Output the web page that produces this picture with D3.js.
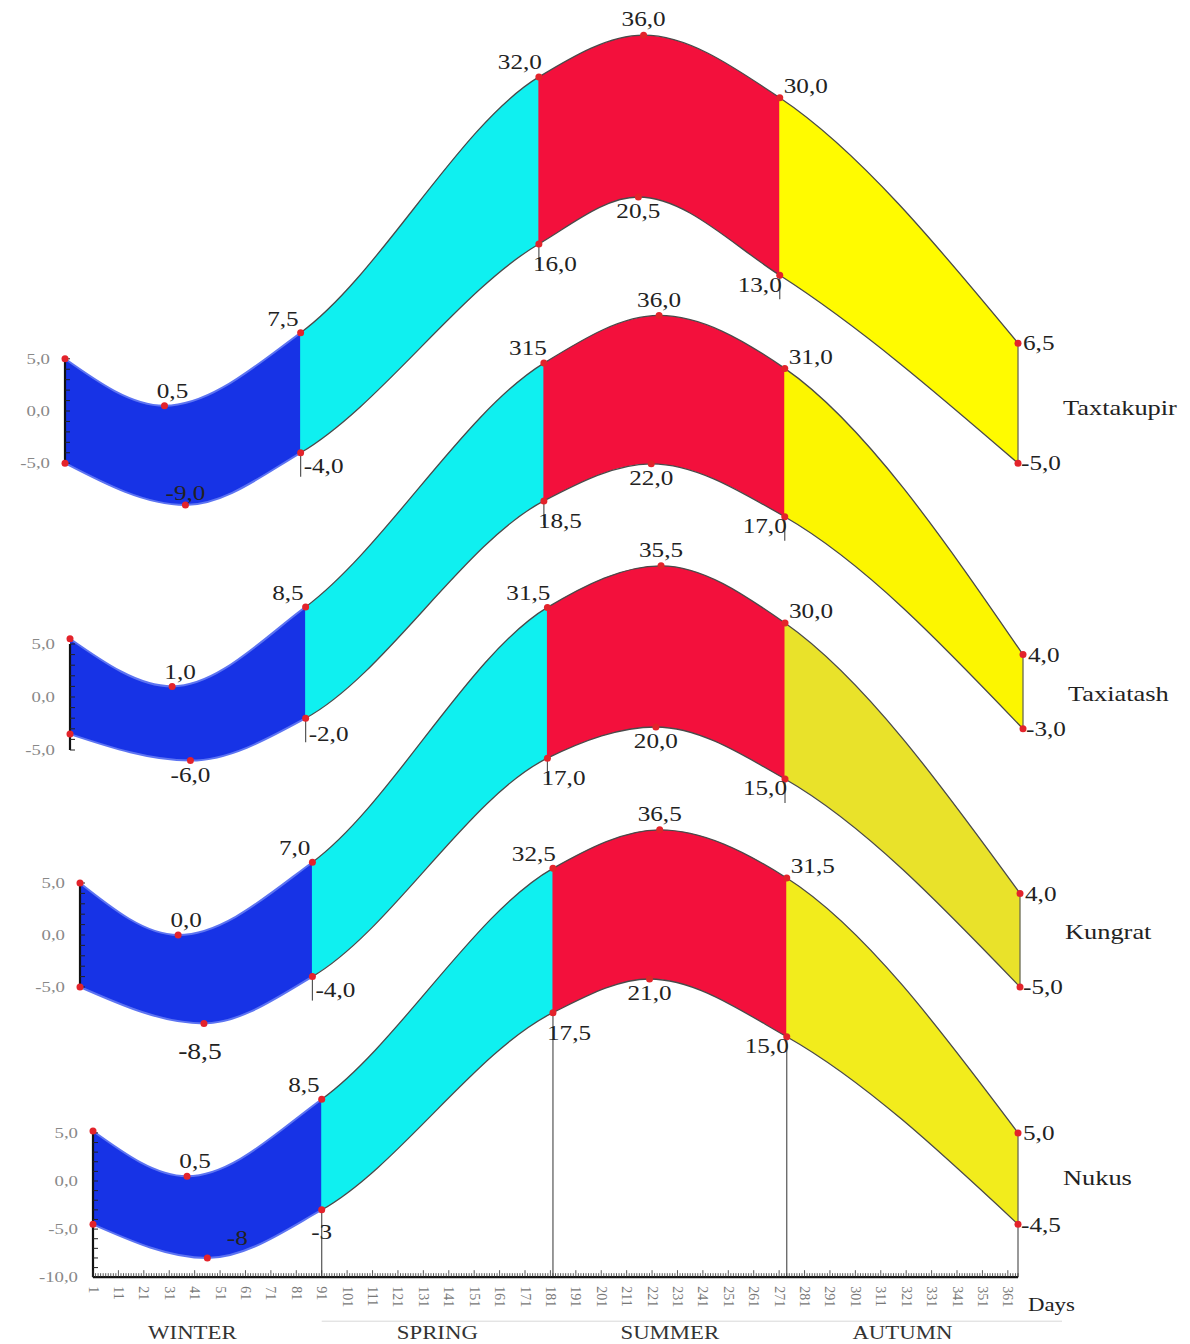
<!DOCTYPE html>
<html><head><meta charset="utf-8">
<script src="https://cdn.jsdelivr.net/npm/d3@7/dist/d3.min.js"></script>
<style>body{margin:0;background:#fff} svg{display:block}</style>
</head><body><svg id="c" width="1190" height="1344"></svg>
<script>
// ---------------- DATA ----------------
const stations = ["Taxtakupir", "Taxiatash", "Kungrat", "Nukus"];
const seasons = ["WINTER", "SPRING", "SUMMER", "AUTUMN"];
const seasonStart = [1, 91, 182, 274];
const seasonEnd = [91, 182, 274, 365];

const upperDays = [
  [1, 39, 91, 182, 222, 274, 365],
  [1, 40, 91, 182, 226, 274, 365],
  [1, 39, 91, 182, 226, 274, 365],
  [1, 38, 91, 182, 224, 274, 365]
];
const upperTemps = [
  [5.0, 0.5, 7.5, 32.0, 36.0, 30.0, 6.5],
  [5.5, 1.0, 8.5, 31.5, 36.0, 31.0, 4.0],
  [5.0, 0.0, 7.0, 31.5, 35.5, 30.0, 4.0],
  [5.2, 0.5, 8.5, 32.5, 36.5, 31.5, 5.0]
];
const upperLabels = [
  [null, "0,5", "7,5", "32,0", "36,0", "30,0", "6,5"],
  [null, "1,0", "8,5", "315", "36,0", "31,0", "4,0"],
  [null, "0,0", "7,0", "31,5", "35,5", "30,0", "4,0"],
  [null, "0,5", "8,5", "32,5", "36,5", "31,5", "5,0"]
];
const lowerDays = [
  [1, 47, 91, 182, 220, 274, 365],
  [1, 47, 91, 182, 223, 274, 365],
  [1, 49, 91, 182, 224, 274, 365],
  [1, 46, 91, 182, 220, 274, 365]
];
const lowerTemps = [
  [-5.0, -9.0, -4.0, 16.0, 20.5, 13.0, -5.0],
  [-3.5, -6.0, -2.0, 18.5, 22.0, 17.0, -3.0],
  [-5.0, -8.5, -4.0, 17.0, 20.0, 15.0, -5.0],
  [-4.5, -8.0, -3.0, 17.5, 21.0, 15.0, -4.5]
];
const lowerLabels = [
  [null, "-9,0", "-4,0", "16,0", "20,5", "13,0", "-5,0"],
  [null, "-6,0", "-2,0", "18,5", "22,0", "17,0", "-3,0"],
  [null, "-8,5", "-4,0", "17,0", "20,0", "15,0", "-5,0"],
  [null, "-8", "-3", "17,5", "21,0", "15,0", "-4,5"]
];
const yTickValues = [[5, 0, -5], [5, 0, -5], [5, 0, -5], [5, 0, -5, -10]];
const yTickLabels = [["5,0", "0,0", "-5,0"], ["5,0", "0,0", "-5,0"], ["5,0", "0,0", "-5,0"], ["5,0", "0,0", "-5,0", "-10,0"]];
const dayTicks = [1, 11, 21, 31, 41, 51, 61, 71, 81, 91, 101, 111, 121, 131, 141, 151, 161, 171, 181,
  191, 201, 211, 221, 231, 241, 251, 261, 271, 281, 291, 301, 311, 321, 331, 341, 351, 361];

// ---------------- LAYOUT ----------------
const xRanges = [[65, 1018], [70, 1023], [80, 1020], [93, 1018]];
const zeroY = [411, 697, 935, 1181];
const pxPerDeg = [10.44, 10.6, 10.4, 9.62];
const seasonColors = ["#1733e6", "#0ff0f0", "#f3103c", "#fdf800"];
const autumnColors = ["#fffb00", "#fcf600", "#e9e22a", "#f2ec1c"];
const FONT = "'Liberation Serif','Times New Roman',serif";

const upOff = [null, [8, -15, "middle"], [-2, -14, "end"], [3, -15, "end"], [0, -16, "middle"], [4, -12, "start"], [5, 0, "start"]];
const loOff = [null, [0, 14, "middle"], [3, 13, "start"], [-6, 20, "start"], [0, 14, "middle"], [2, 9, "end"], [3, 0, "start"]];
const loOverride = { "0-1": [0, -12, "middle"], "2-1": [-4, 27, "middle"], "3-1": [30, -20, "middle"], "3-2": [0, 22, "middle"], "1-2": [3, 16, "start"] };

const svg = d3.select("#c");
const defs = svg.append("defs");
const gFill = svg.append("g");
const gLine = svg.append("g");
const gAxis = svg.append("g");
const gDot = svg.append("g");
const gText = svg.append("g");

function txt(parent, x, y, s, o = {}) {
  const g = parent.append("g").attr("transform", `translate(${x},${y})`);
  if (o.rotate) g.attr("transform", `translate(${x},${y}) rotate(${o.rotate})`);
  g.append("text")
    .attr("transform", `scale(${o.sx ?? 1.2},1)`)
    .attr("text-anchor", o.anchor || "middle")
    .attr("dominant-baseline", "central")
    .attr("font-family", FONT)
    .attr("font-size", o.size || 21)
    .attr("fill", o.fill || "#222")
    .text(s);
}

stations.forEach((name, i) => {
  const x = d3.scaleLinear().domain([1, 365]).range(xRanges[i]);
  const y = d3.scaleLinear().domain([-10, 40]).range([zeroY[i] + 10 * pxPerDeg[i], zeroY[i] - 40 * pxPerDeg[i]]);
  const up = upperDays[i].map((d, j) => ({ day: d, t: upperTemps[i][j] }));
  const lo = lowerDays[i].map((d, j) => ({ day: d, t: lowerTemps[i][j] }));
  const line = d3.line().x(d => x(d.day)).y(d => y(d.t)).curve(d3.curveMonotoneX);
  const upD = line(up), loD = line(lo);
  const xa = x(1), xb = x(365);

  defs.append("clipPath").attr("id", "up" + i).append("path")
    .attr("d", upD + `L${xb},2000L${xa},2000Z`);
  defs.append("clipPath").attr("id", "lo" + i).append("path")
    .attr("d", loD + `L${xb},-1000L${xa},-1000Z`);
  defs.append("clipPath").attr("id", "win" + i).append("rect")
    .attr("x", -10).attr("y", -10).attr("width", x(91) + 10).attr("height", 1400);
  defs.append("clipPath").attr("id", "rest" + i).append("rect")
    .attr("x", x(91)).attr("y", -10).attr("width", 1300).attr("height", 1400);

  const band = gFill.append("g").attr("clip-path", `url(#lo${i})`)
    .append("g").attr("clip-path", `url(#up${i})`);
  seasons.forEach((s, k) => {
    band.append("rect")
      .attr("x", x(seasonStart[k]) - (k > 0 ? 0.5 : 0))
      .attr("width", x(seasonEnd[k]) - x(seasonStart[k]) + 1)
      .attr("y", 0).attr("height", 1344)
      .attr("fill", k === 3 ? autumnColors[i] : seasonColors[k]);
  });

  // outlines
  [upD, loD].forEach(d => {
    gLine.append("path").attr("d", d).attr("fill", "none")
      .attr("stroke", "#5d74f2").attr("stroke-width", 2).attr("clip-path", `url(#win${i})`);
    gLine.append("path").attr("d", d).attr("fill", "none")
      .attr("stroke", "#4a4a4a").attr("stroke-width", 1.3).attr("clip-path", `url(#rest${i})`);
  });
  // end edge
  gLine.append("line").attr("x1", xb).attr("x2", xb)
    .attr("y1", y(up[6].t)).attr("y2", y(lo[6].t))
    .attr("stroke", "#6a6a50").attr("stroke-width", 1.3);

  // small vertical markers / guide lines
  const isLast = i === stations.length - 1;
  const yAxisBottom = y(-10);
  [2, 3, 5, 6].forEach(j => {
    if (!isLast && j === 6) return;
    const px = x(lo[j].day), py = y(lo[j].t);
    gLine.append("line").attr("x1", px).attr("x2", px)
      .attr("y1", py).attr("y2", isLast ? yAxisBottom : py + 24)
      .attr("stroke", "#555").attr("stroke-width", 1.2);
  });

  // mini y axis
  const yv = yTickValues[i];
  const yTop = y(d3.max(yv)), yBot = y(d3.min(yv));
  gAxis.append("line").attr("x1", xa).attr("x2", xa).attr("y1", yTop).attr("y2", yBot)
    .attr("stroke", "#111").attr("stroke-width", 2.2);
  for (let v = d3.min(yv); v <= d3.max(yv); v += 1) {
    gAxis.append("line").attr("x1", xa).attr("x2", xa + 5).attr("y1", y(v)).attr("y2", y(v))
      .attr("stroke", "#222").attr("stroke-width", 1);
  }
  yv.forEach((v, k) => txt(gText, xa - 15, y(v), yTickLabels[i][k], { anchor: "end", size: 15, fill: "#888", sx: 1.25 }));

  // dots
  [...up, ...lo].forEach(p => {
    gDot.append("circle").attr("cx", x(p.day)).attr("cy", y(p.t)).attr("r", 3.5).attr("fill", "#e3232b");
  });

  // value labels
  up.forEach((p, j) => {
    const s = upperLabels[i][j]; if (!s) return;
    const [dx, dy, a] = upOff[j];
    txt(gText, x(p.day) + dx, y(p.t) + dy, s, { anchor: a });
  });
  lo.forEach((p, j) => {
    const s = lowerLabels[i][j]; if (!s) return;
    const [dx, dy, a] = loOverride[i + "-" + j] || loOff[j];
    txt(gText, x(p.day) + dx, y(p.t) + dy, s, { anchor: a, size: (i === 2 && j === 1) ? 23 : 21 });
  });

  // station name
  txt(gText, xb + 45, zeroY[i] - 4, name, { anchor: "start", size: 22 });

  // bottom axis for last station
  if (isLast) {
    const ay = yAxisBottom;
    gAxis.append("line").attr("x1", xa).attr("x2", xb).attr("y1", ay).attr("y2", ay)
      .attr("stroke", "#111").attr("stroke-width", 2.2);
    for (let d = 1; d <= 365; d += 1) {
      const major = dayTicks.includes(d);
      gAxis.append("line").attr("x1", x(d)).attr("x2", x(d)).attr("y1", ay).attr("y2", ay - (major ? 7 : 4))
        .attr("stroke", "#333").attr("stroke-width", 0.8);
    }
    dayTicks.forEach(d => txt(gText, x(d), ay + 9, String(d), { anchor: "start", size: 14, fill: "#777", sx: 1, rotate: 90 }));
    gAxis.append("line").attr("x1", x(91)).attr("x2", 1062).attr("y1", ay + 44).attr("y2", ay + 44)
      .attr("stroke", "#d8d8d8").attr("stroke-width", 1);
    txt(gText, 1028, ay + 27, "Days", { anchor: "start", size: 19 });
    seasons.forEach((s, k) => {
      const cx = (x(seasonStart[k]) + x(seasonEnd[k])) / 2 - (k === 0 ? 15 : 0);
      txt(gText, cx, 1333, s, { size: 19, fill: "#333" });
    });
  }
});
</script>
</body></html>
